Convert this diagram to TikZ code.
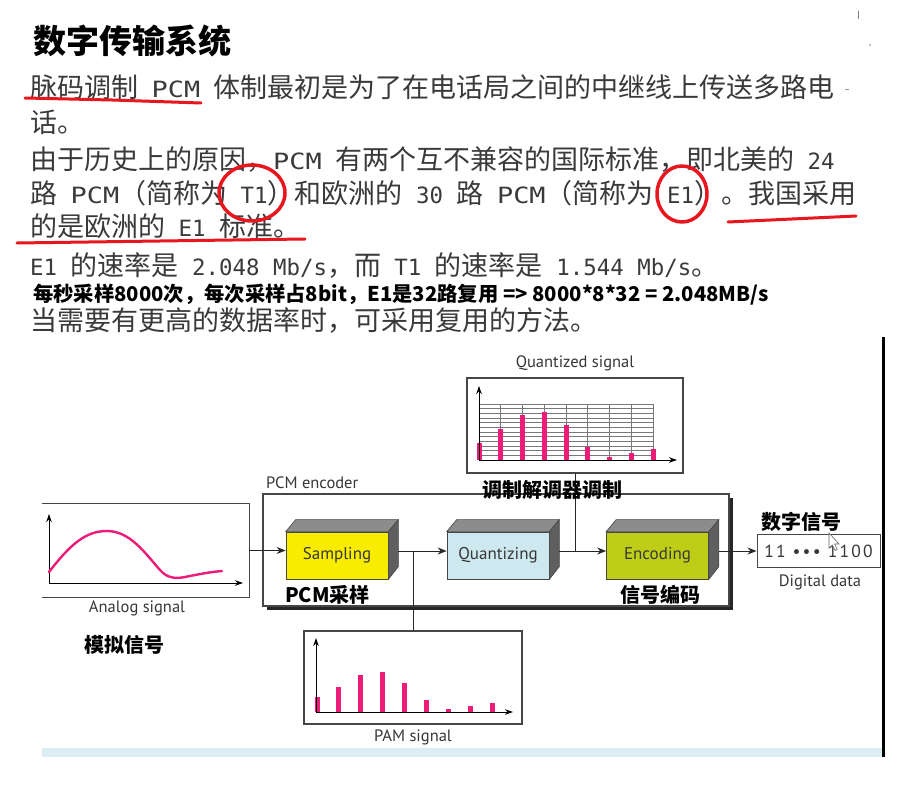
\documentclass[tikz,border=0pt]{standalone}
\usepackage{graphicx}
\usepackage{fontspec}
\usetikzlibrary{arrows.meta,calc,shadows}
\newfontfamily\cjk{Noto Sans CJK SC}
\newfontfamily\hwmono{DejaVu Sans Mono}
\newfontfamily\dsans{PT Sans}
% half-width Latin runs inside the grey CJK lines
\newcommand\hw[1]{{\hwmono\fontsize{22.4}{27}\selectfont #1}}
% the wide capitals of "PCM"
\newcommand\pcmword{\scalebox{1.2}[1]{\hw{PCM}}}
% 3-D depth of a process block (top and right faces)
\newcommand\blockdepth[1]{%
  \filldraw[fill=topgray, draw=blockedge, line width=0.6pt]
    (#1.north west) -- ++(10,-12) -- ($(#1.north east)+(10,-12)$) -- (#1.north east) -- cycle;
  \filldraw[fill=sidegray, draw=blockedge, line width=0.6pt]
    (#1.north east) -- ++(10,-12) -- ++(0,47) -- (#1.south east) -- cycle;}
\definecolor{txtgray}{RGB}{58,58,58}
\definecolor{labelgray}{RGB}{55,55,55}
\definecolor{blockedge}{RGB}{70,70,70}
\definecolor{topgray}{RGB}{140,140,140}
\definecolor{sidegray}{RGB}{95,95,95}
\definecolor{markred}{RGB}{232,22,30}
\definecolor{pink}{RGB}{236,28,120}
\definecolor{sampyellow}{RGB}{248,236,0}
\definecolor{quantblue}{RGB}{206,232,240}
\definecolor{encgreen}{RGB}{190,206,22}
\definecolor{gridgray}{RGB}{120,120,120}
\definecolor{bandblue}{RGB}{220,237,243}
\begin{document}
\begin{tikzpicture}[x=1pt,y=-1pt,
  greyline/.style={anchor=base west, inner sep=0, text=txtgray, font=\cjk\fontsize{27}{30}\selectfont},
  boldnote/.style={inner sep=0, font=\cjk\bfseries\fontsize{20}{24}\selectfont},
  redmark/.style={draw=markred, line width=3pt, line cap=round, line join=round},
  boxline/.style={draw=blockedge, line width=1.1pt},
  conn/.style={draw=black!85, line width=1pt},
  arr/.style={conn, -{Stealth[length=9pt,width=7pt]}},
  axis/.style={draw=black, line width=1pt, -{Stealth[length=8pt,width=5.5pt]}},
  bar/.style={fill=pink},
  dlabel/.style={inner sep=0, text=labelgray, font=\dsans\fontsize{16.5}{19}\selectfont},
  stepblock/.style={draw=blockedge, line width=0.7pt, minimum width=102pt, minimum height=47pt,
    inner sep=0, text=labelgray, font=\dsans\fontsize{17}{20}\selectfont},
  frame/.style={boxline, fill=white, inner sep=0}]
\useasboundingbox (0,0) rectangle (918,797);
\fill[white] (0,0) rectangle (918,797);

% ---------- heading and text ----------
\node[anchor=base west, inner sep=0, font=\cjk\bfseries\fontsize{33}{36}\selectfont] (title) at (33,54) {数字传输系统};
\node[greyline] (l1) at (30,98) {脉码调制\hw{~}\pcmword\hw{~}体制最初是为了在电话局之间的中继线上传送多路电};
\node[greyline] (l2) at (30,132) {话。};
\node[greyline] (l3) at (30,169) {由于历史上的原因，\pcmword\hw{~}有两个互不兼容的国际标准，即北美的\hw{~24}};
\node[greyline] (l4) at (30,203) {路\hw{~}\pcmword（简称为\hw{~T1}）和欧洲的\hw{~30~}路\hw{~}\pcmword（简称为\hw{~E1}）。我国采用};
\node[greyline] (l5) at (30,236) {的是欧洲的\hw{~E1~}标准。};
\node[greyline] (l6) at (30,275) {\hw{E1~}的速率是\hw{~2.048~Mb/s}，而\hw{~T1~}的速率是\hw{~1.544~Mb/s}。};
\node[boldnote, anchor=base west, font=\cjk\bfseries\fontsize{20.3}{24}\selectfont] (l7) at (33,301) {每秒采样8000次，每次采样占8bit，E1是32路复用 => 8000*8*32 = 2.048MB/s};
\node[greyline] (l8) at (30,330) {当需要有更高的数据率时，可采用复用的方法。};

% red pen marks
\draw[redmark] (25,98) -- (112,100) -- (201,103);
\draw[redmark] (17,243) -- (160,241) -- (305,239);
\draw[redmark] (728,222) -- (856,216);
\draw[redmark, line width=3.5pt] (252,193) ellipse [x radius=33pt, y radius=28pt];
\draw[redmark, line width=3.5pt] (682,194) ellipse [x radius=25pt, y radius=28pt];

% specks near the right edge
\draw[gray, line width=0.8pt] (858,11) -- (858,19);
\fill[gray] (870,45) circle [radius=0.9pt];
\draw[gray!80, line width=1pt] (845,90) -- (849,90);

% ---------- PCM encoder ----------
\node[frame, minimum width=466pt, minimum height=112pt,
      drop shadow={shadow xshift=4pt, shadow yshift=-4pt, fill=black!85, opacity=1}] (pcm) at (496,550) {};
\node[dlabel, anchor=west] (pcmlabel) at (266,483) {PCM encoder};

\node[stepblock, fill=sampyellow] (samp) at (337,555.5) {Sampling};
\node[stepblock, fill=quantblue] (quant) at (498,555.5) {Quantizing};
\node[stepblock, fill=encgreen] (enc) at (657.5,555.5) {Encoding};
\blockdepth{samp}
\blockdepth{quant}
\blockdepth{enc}

\coordinate (sampout) at ($(samp.east)+(10,-4.5)$);
\coordinate (quantin) at ($(quant.west)+(0,-4.5)$);
\coordinate (quantout) at ($(quant.east)+(10,-4.5)$);
\coordinate (encin) at ($(enc.west)+(0,-4.5)$);
\coordinate (encout) at ($(enc.east)+(10,-4.5)$);

% ---------- analog signal ----------
\node[inner sep=0, minimum width=207pt, minimum height=93pt] (analog) at (145.5,550.5) {};
\draw[boxline] (analog.north west) -- (analog.north east) -- (analog.south east) -- (analog.south west);
\coordinate (ao) at (49,583);
\draw[axis] (ao) -- (49,514);
\draw[axis] (ao) -- (243,583);
\draw[pink, line width=2.4pt, line cap=round] (49,572) .. controls (70,545) and (85,531) .. (107,531)
  .. controls (130,531) and (145,553) .. (160,570) .. controls (167,578) and (175,579) .. (185,577)
  .. controls (200,574) and (210,572) .. (222,571);
\node[dlabel] (analoglabel) at (137,608) {Analog signal};
\node[boldnote] (analogcn) at (124,645) {模拟信号};

% ---------- quantized signal ----------
\node[frame, minimum width=216pt, minimum height=95pt] (qsig) at (575,425.5) {};
\node[dlabel] (qlabel) at (575,363) {Quantized signal};
\foreach \k in {0,...,12}
  \draw[gridgray, line width=0.7pt] (479,404+\k*4.667) -- (653,404+\k*4.667);
\foreach \k in {1,...,8}
  \draw[gridgray, line width=0.8pt] (479+\k*21.75,404) -- (479+\k*21.75,460);
\foreach \t [count=\k from 0] in {443,429,415,412,425,447,457,453,449}
  \fill[bar] (476.5+\k*21.75,\t) rectangle (481.5+\k*21.75,460);
\coordinate (qo) at (479,460);
\draw[axis] (qo) -- (479,386);
\draw[axis] (qo) -- (677,460);

% ---------- PAM signal ----------
\node[frame, minimum width=218pt, minimum height=93pt] (pam) at (413,677.5) {};
\foreach \t [count=\k from 0] in {697,687,675,672,683,700,709,706,703}
  \fill[bar] (314.5+\k*21.9,\t) rectangle (319.5+\k*21.9,712);
\coordinate (po) at (316,712);
\draw[axis] (po) -- (316,638);
\draw[axis] (po) -- (513,712);
\node[dlabel] (pamlabel) at (413,737) {PAM signal};

% ---------- digital data ----------
\node[draw=blockedge, line width=1pt, fill=white, minimum width=123pt, minimum height=33pt, inner sep=0,
      text=labelgray, font=\dsans\fontsize{17.5}{20}\selectfont\addfontfeatures{LetterSpace=13}]
      (digital) at (818.5,551) {11 ••• 1100};
\node[dlabel] (digitallabel) at (820,582) {Digital data};
\filldraw[fill=white, draw=gray!80!black, line width=0.6pt]
  (829,533) -- (829,548) -- (832.5,545) -- (835,550.5) -- (837.2,549.5) -- (834.7,544) -- (839,544) -- cycle;

% ---------- connectors ----------
\draw[arr] (analog.east) -- (samp.west |- analog.east);
\draw[arr] (sampout) -- (quantin);
\draw[arr] (quantout) -- (encin);
\draw[arr] (encout) -- (digital.west);
\draw[conn] (sampout -| pam.north) -- (pam.north);
\draw[conn] (qsig.south) -- (qsig.south |- quantout);

% ---------- Chinese notes on the diagram ----------
\node[boldnote] (modemcn) at (552,490) {调制解调器调制};
\node[boldnote, anchor=west] (sampcn) at (285,595) {PCM采样};
\node[boldnote] (enccn) at (660,595) {信号编码};
\node[boldnote] (digitalcn) at (801,522) {数字信号};

% ---------- right border and bottom band ----------
\fill[bandblue] (42,748) rectangle (883,757);
\draw[black, line width=3pt] (883,337) -- (883,757);
\end{tikzpicture}
\end{document}
